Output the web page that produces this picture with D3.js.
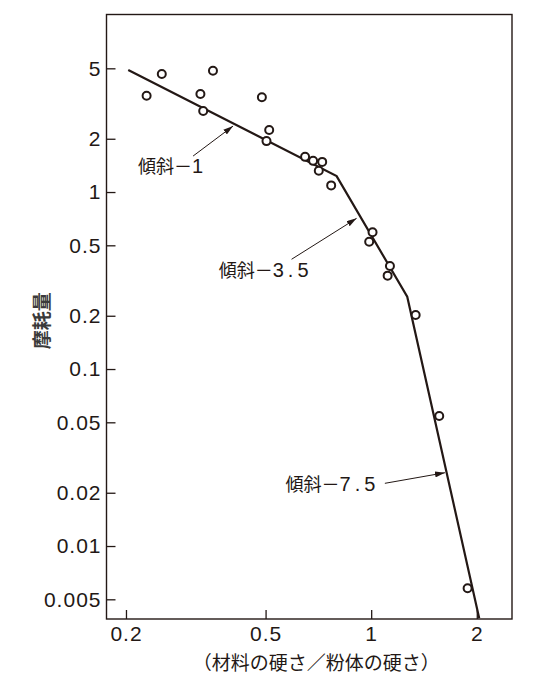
<!DOCTYPE html>
<html>
<head>
<meta charset="utf-8">
<script src="https://cdn.jsdelivr.net/npm/d3@7"></script>
<style>
  body { margin: 0; background: #fff; }
  svg { display: block; }
  .tick text { font-family: "Liberation Sans", Arial, sans-serif; font-size: 21px; letter-spacing: 1px; fill: #231815; }
  .tick line { stroke: #231815; stroke-width: 1.3; }
</style>
</head>
<body>
<div id="chart"></div>
<script>
// axis ranges and ticks
const xDomain = [0.176, 2.52];
const yDomain = [0.00387, 10.07];
const xTicks = [0.2, 0.5, 1, 2];
const yTicks = [0.005, 0.01, 0.02, 0.05, 0.1, 0.2, 0.5, 1, 2, 5];

// measured points (hardness ratio, wear)
const ratio = [0.229, 0.253, 0.326, 0.354, 0.332, 0.488, 0.512, 0.503, 0.648, 0.683,
               0.725, 0.709, 0.769, 1.009, 0.987, 1.131, 1.114, 1.339, 1.563, 1.883];
const wear  = [3.50, 4.64, 3.58, 4.84, 2.87, 3.43, 2.24, 1.94, 1.58, 1.50,
               1.48, 1.32, 1.09, 0.592, 0.524, 0.382, 0.337, 0.202, 0.0543, 0.00577];

// fitted broken line
const fitX = [0.203, 0.797, 1.267, 2.032];
const fitY = [4.89, 1.23, 0.256, 0.00391];

// slope annotations: label anchor, arrow tail, arrow tip (data units)
const slopeNames = ["1", "3.5", "7.5"];
const labelPos = [[0.218, 1.384], [0.370, 0.3555], [0.5737, 0.02211]];
const arrowFrom = [[0.3107, 1.597], [0.593, 0.417], [1.094, 0.02261]];
const arrowTo   = [[0.404, 2.36], [0.9086, 0.710], [1.623, 0.02595]];

const xTitle = "（材料の硬さ／粉体の硬さ）";
const yTitle = "摩耗量";

const ink = "#231815";
const W = 553, H = 685;
const margin = { top: 14.5, right: 41, bottom: 66, left: 106.5 };
const width = W - margin.left - margin.right,
      height = H - margin.top - margin.bottom;

const svg = d3.select("#chart").append("svg")
    .attr("width", W)
    .attr("height", H);

// arrow head
svg.append("defs").append("marker")
    .attr("id", "head")
    .attr("viewBox", "0 0 10 6")
    .attr("refX", 10).attr("refY", 3)
    .attr("markerWidth", 10).attr("markerHeight", 6)
    .attr("markerUnits", "userSpaceOnUse")
    .attr("orient", "auto")
    .append("path")
    .attr("d", "M0,0L10,3L0,6Z")
    .attr("fill", ink);

const g = svg.append("g")
    .attr("transform", `translate(${margin.left},${margin.top})`);

const x = d3.scaleLog().domain(xDomain).range([0, width]);
const y = d3.scaleLog().domain(yDomain).range([height, 0]);

const xAxis = d3.axisBottom(x)
    .tickValues(xTicks)
    .tickFormat(d3.format("~g"))
    .tickSizeInner(-9).tickSizeOuter(0)
    .tickPadding(7);

const yAxis = d3.axisLeft(y)
    .tickValues(yTicks)
    .tickFormat(d3.format("~g"))
    .tickSizeInner(-9).tickSizeOuter(0)
    .tickPadding(5);

g.append("g")
    .attr("transform", `translate(0,${height})`)
    .call(xAxis)
    .call(s => s.select(".domain").remove());

g.append("g")
    .call(yAxis)
    .call(s => s.select(".domain").remove());

// frame
g.append("rect")
    .attr("width", width)
    .attr("height", height)
    .attr("fill", "none")
    .attr("stroke", ink)
    .attr("stroke-width", 1.4);

// fitted line
const line = d3.line()
    .x(d => x(d[0]))
    .y(d => y(d[1]));

g.append("path")
    .datum(d3.zip(fitX, fitY))
    .attr("d", line)
    .attr("fill", "none")
    .attr("stroke", ink)
    .attr("stroke-width", 2.2)
    .attr("stroke-linejoin", "miter");

// data points
g.selectAll(".pt")
    .data(d3.zip(ratio, wear))
    .enter()
    .append("circle")
    .attr("class", "pt")
    .attr("cx", d => x(d[0]))
    .attr("cy", d => y(d[1]))
    .attr("r", 4)
    .attr("fill", "#fff")
    .attr("stroke", ink)
    .attr("stroke-width", 2);

// slope arrows
g.selectAll(".arrow")
    .data(d3.range(slopeNames.length))
    .enter()
    .append("line")
    .attr("class", "arrow")
    .attr("x1", i => x(arrowFrom[i][0]))
    .attr("y1", i => y(arrowFrom[i][1]))
    .attr("x2", i => x(arrowTo[i][0]))
    .attr("y2", i => y(arrowTo[i][1]))
    .attr("stroke", ink)
    .attr("stroke-width", 1)
    .attr("marker-end", "url(#head)");

// slope labels
const labels = g.selectAll(".slope")
    .data(d3.range(slopeNames.length))
    .enter()
    .append("text")
    .attr("class", "slope")
    .attr("x", i => x(labelPos[i][0]) - 1)
    .attr("y", i => y(labelPos[i][1]))
    .attr("dy", "0.36em")
    .attr("fill", ink);

labels.append("tspan")
    .style("font-family", "'Noto Sans CJK JP', sans-serif")
    .style("font-size", "18px")
    .text("傾斜－");

labels.append("tspan")
    .style("font-family", "'Liberation Sans', Arial, sans-serif")
    .style("font-size", "20px")
    .style("letter-spacing", "4px")
    .text(i => slopeNames[i]);

// axis titles
svg.append("text")
    .attr("x", margin.left + x(1) - 55)
    .attr("y", 663)
    .attr("dy", "0.36em")
    .attr("text-anchor", "middle")
    .style("font-family", "'Noto Sans CJK JP', sans-serif")
    .style("font-size", "19px")
    .attr("fill", ink)
    .text(xTitle);

svg.append("text")
    .attr("transform", `translate(42,${margin.top + y(0.2) + 5}) rotate(-90)`)
    .attr("dy", "0.36em")
    .attr("text-anchor", "middle")
    .style("font-family", "'Noto Sans CJK JP', sans-serif")
    .style("font-size", "19px")
    .style("font-weight", "bold")
    .attr("fill", "#3a3a3a")
    .text(yTitle);
</script>
</body>
</html>
